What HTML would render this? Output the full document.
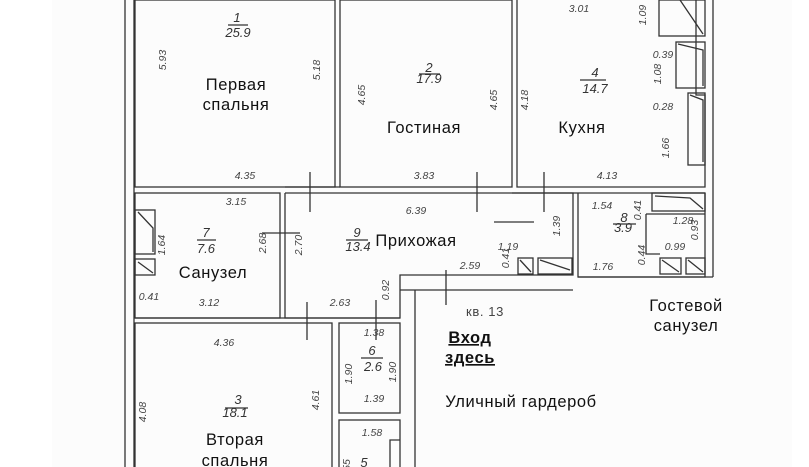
<!DOCTYPE html>
<html><head><meta charset="utf-8"><style>
html,body{margin:0;padding:0;background:#fff;width:809px;height:467px;overflow:hidden}
svg{display:block}
.w{fill:none;stroke:#333;stroke-width:1.3}
.t{font-family:"Liberation Sans","DejaVu Sans",sans-serif;fill:#111;font-size:16.5px;text-anchor:middle;letter-spacing:0.6px}
.d{font-family:"Liberation Sans",sans-serif;fill:#444;font-size:10.5px;font-style:italic;text-anchor:middle}
.n{font-family:"Liberation Sans",sans-serif;fill:#333;font-size:13px;font-style:italic;text-anchor:middle}
</style></head><body>
<svg width="809" height="467" viewBox="0 0 809 467">
<rect x="52" y="0" width="740" height="467" fill="#fcfcfc"/>
<line class="w" x1="125" y1="0" x2="125" y2="467"/>
<line class="w" x1="134" y1="0" x2="134" y2="467"/>
<rect class="w" x="135" y="0" width="200" height="187"/>
<rect class="w" x="340" y="0" width="172" height="187"/>
<polyline class="w" points="517,0 517,187 705,187 705,95 696,95 696,0"/>
<line class="w" x1="713" y1="0" x2="713" y2="277"/>
<line class="w" x1="512" y1="193" x2="705" y2="193"/>
<rect class="w" x="659" y="0" width="46" height="36"/>
<rect class="w" x="676" y="42" width="29" height="46"/>
<rect class="w" x="688" y="93" width="17" height="72"/>
<path class="w" d="M680,0 L703,34 M678,44 L703,50 L703,86 M690,95 L703,100 L703,162"/>
<rect class="w" x="135" y="193" width="145" height="125"/>
<rect class="w" x="135" y="210" width="20" height="44"/>
<rect class="w" x="135" y="259" width="20" height="16"/>
<path class="w" d="M138,212 L153,228 L153,252 M138,262 L153,273"/>
<polyline class="w" points="285,193 573,193 573,275 400,275 400,318 285,318 285,193"/>
<line class="w" x1="285" y1="187" x2="340" y2="187"/>
<line class="w" x1="400" y1="290" x2="573" y2="290"/>
<line class="w" x1="415" y1="290" x2="415" y2="467"/>
<rect class="w" x="518" y="258" width="15" height="16"/>
<rect class="w" x="538" y="258" width="34" height="16"/>
<path class="w" d="M520,260 L531,272 M540,260 L570,270"/>
<polyline class="w" points="578,193 578,277 705,277 705,193"/>
<line class="w" x1="578" y1="277" x2="713" y2="277"/>
<rect class="w" x="652" y="193" width="53" height="18"/>
<rect class="w" x="660" y="258" width="21" height="16"/>
<rect class="w" x="686" y="258" width="19" height="16"/>
<path class="w" d="M655,196 L690,198 L703,209 M662,260 L679,272 M688,260 L703,272 M646,214 L705,214 M646,214 L646,254 L660,254"/>
<rect class="w" x="135" y="323" width="197" height="150"/>
<line class="w" x1="135" y1="318" x2="400" y2="318"/>
<rect class="w" x="339" y="323" width="61" height="90"/>
<rect class="w" x="339" y="420" width="61" height="50"/>
<polyline class="w" points="400,440 390,440 390,467"/>
<path class="w" d="M310,172 L310,212 M477,172 L477,212 M544,172 L544,212 M494,222 L534,222 M262,233 L300,233 M307,302 L307,340 M376,300 L376,340 M446,270 L446,305"/>
<text class="n" x="237" y="22">1</text><line class="w" x1="228" y1="25" x2="248" y2="25"/><text class="n" x="238" y="37">25.9</text>
<text class="n" x="429" y="72">2</text><line class="w" x1="419" y1="74" x2="440" y2="74"/><text class="n" x="429" y="83">17.9</text>
<text class="n" x="595" y="77">4</text><line class="w" x1="580" y1="80" x2="606" y2="80"/><text class="n" x="595" y="93">14.7</text>
<text class="n" x="206" y="237">7</text><line class="w" x1="197" y1="240" x2="216" y2="240"/><text class="n" x="206" y="253">7.6</text>
<text class="n" x="357" y="237">9</text><line class="w" x1="346" y1="240" x2="368" y2="240"/><text class="n" x="358" y="251">13.4</text>
<text class="n" x="624" y="222">8</text><line class="w" x1="613" y1="224" x2="636" y2="224"/><text class="n" x="623" y="232">3.9</text>
<text class="n" x="372" y="355">6</text><line class="w" x1="361" y1="358" x2="383" y2="358"/><text class="n" x="373" y="371">2.6</text>
<text class="n" x="238" y="404">3</text><line class="w" x1="225" y1="408" x2="248" y2="408"/><text class="n" x="235" y="417">18.1</text>
<text class="n" x="364" y="467">5</text>
<g class="d">
<text x="245" y="179">4.35</text><text x="236" y="205">3.15</text><text x="424" y="179">3.83</text><text x="607" y="179">4.13</text>
<text x="579" y="12">3.01</text><text x="416" y="214">6.39</text><text x="508" y="250">1.19</text><text x="470" y="269">2.59</text>
<text x="340" y="306">2.63</text><text x="149" y="300">0.41</text><text x="209" y="306">3.12</text><text x="224" y="346">4.36</text>
<text x="374" y="336">1.38</text><text x="374" y="402">1.39</text><text x="372" y="436">1.58</text>
<text x="663" y="58">0.39</text><text x="663" y="110">0.28</text><text x="602" y="209">1.54</text><text x="603" y="270">1.76</text>
<text x="683" y="224">1.28</text><text x="675" y="250">0.99</text>
</g>
<g class="d">
<text transform="translate(166,60) rotate(-90)">5.93</text><text transform="translate(320,70) rotate(-90)">5.18</text>
<text transform="translate(365,95) rotate(-90)">4.65</text><text transform="translate(497,100) rotate(-90)">4.65</text>
<text transform="translate(528,100) rotate(-90)">4.18</text><text transform="translate(646,15) rotate(-90)">1.09</text>
<text transform="translate(661,74) rotate(-90)">1.08</text><text transform="translate(669,148) rotate(-90)">1.66</text>
<text transform="translate(165,245) rotate(-90)">1.64</text><text transform="translate(266,243) rotate(-90)">2.68</text>
<text transform="translate(302,245) rotate(-90)">2.70</text><text transform="translate(560,226) rotate(-90)">1.39</text>
<text transform="translate(509,258) rotate(-90)">0.41</text><text transform="translate(389,290) rotate(-90)">0.92</text>
<text transform="translate(641,210) rotate(-90)">0.41</text><text transform="translate(645,255) rotate(-90)">0.44</text>
<text transform="translate(698,230) rotate(-90)">0.93</text><text transform="translate(352,374) rotate(-90)">1.90</text>
<text transform="translate(396,372) rotate(-90)">1.90</text><text transform="translate(146,412) rotate(-90)">4.08</text>
<text transform="translate(319,400) rotate(-90)">4.61</text><text transform="translate(350,465) rotate(-90)">55</text>
</g>
<text class="t" x="236" y="90">Первая</text><text class="t" x="236" y="110">спальня</text>
<text class="t" x="424" y="133">Гостиная</text>
<text class="t" x="582" y="133">Кухня</text>
<text class="t" x="213" y="278">Санузел</text>
<text class="t" x="416" y="246">Прихожая</text>
<text class="t" x="686" y="311">Гостевой</text><text class="t" x="686" y="331">санузел</text>
<text class="t" x="485" y="316" style="font-size:13px;fill:#444">кв. 13</text>
<text class="t" x="470" y="343" style="font-weight:bold;text-decoration:underline">Вход</text>
<text class="t" x="470" y="363" style="font-weight:bold;text-decoration:underline">здесь</text>
<text class="t" x="521" y="407">Уличный гардероб</text>
<text class="t" x="235" y="445">Вторая</text><text class="t" x="235" y="466">спальня</text>
</svg>
</body></html>
